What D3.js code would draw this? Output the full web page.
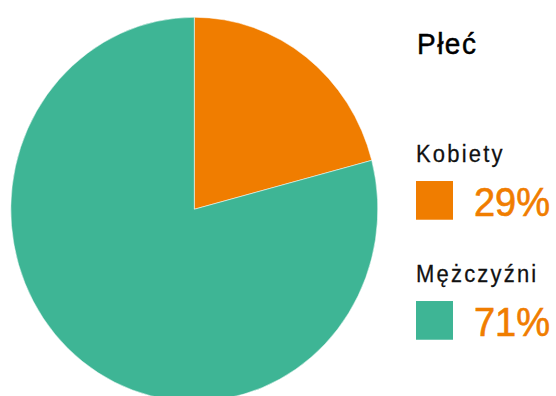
<!DOCTYPE html>
<html>
<head>
<meta charset="utf-8">
<script src="https://cdn.jsdelivr.net/npm/d3@7"></script>
<style>
  body { margin: 0; background: #fff; }
  text { font-family: "Liberation Sans", Arial, Helvetica, sans-serif; }
</style>
</head>
<body>
<div id="chart"></div>
<script>
var categories = ['Kobiety', 'Mężczyźni'];
var values = [20.9, 79.1];
var percentLabels = ['29%', '71%'];
var colors = ['#F07D00', '#3EB595'];
var title = 'Płeć';

var width = 556;
var height = 396;
// picture is a bit taller than wide, so everything is stretched vertically
var sy = 1.0463;

var svg = d3.select('#chart')
  .append('svg')
  .attr('width', width)
  .attr('height', height);

var root = svg.append('g')
  .attr('transform', 'scale(1,' + sy + ')');

// Pie
var radius = 183.5;
var pie = d3.pie().sort(null).value(function (d) { return d; });
var arc = d3.arc().innerRadius(0).outerRadius(radius);

var pieG = root.append('g')
  .attr('transform', 'translate(194.3,200)');

pieG.selectAll('path')
  .data(pie(values))
  .enter()
  .append('path')
  .attr('d', arc)
  .attr('fill', function (d, i) { return colors[i]; })
  .attr('stroke', '#fff')
  .attr('stroke-width', 0.5);

// Legend
var legend = root.append('g');

legend.append('text')
  .attr('x', 417)
  .attr('y', 52)
  .attr('font-size', 28)
  .attr('letter-spacing', 1.5)
  .attr('fill', '#000')
  .attr('stroke', '#000')
  .attr('stroke-width', 0.45)
  .text(title);

var rowY = d3.scalePoint()
  .domain(categories)
  .range([154.5, 269.2]);

var items = legend.selectAll('g.item')
  .data(categories)
  .enter()
  .append('g')
  .attr('class', 'item')
  .attr('transform', function (d) { return 'translate(0,' + rowY(d) + ')'; });

items.append('text')
  .attr('x', 416)
  .attr('y', 0)
  .attr('font-size', 22)
  .attr('letter-spacing', 2.2)
  .attr('fill', '#111')
  .attr('stroke', '#111')
  .attr('stroke-width', 0.25)
  .text(function (d) { return d; });

items.append('rect')
  .attr('x', 416)
  .attr('y', 18.5)
  .attr('width', 37)
  .attr('height', 37)
  .attr('fill', function (d, i) { return colors[i]; });

items.append('text')
  .attr('x', 474)
  .attr('y', 51.5)
  .attr('font-size', 38)
  .attr('fill', colors[0])
  .attr('stroke', colors[0])
  .attr('stroke-width', 0.6)
  .text(function (d, i) { return percentLabels[i]; });
</script>
</body>
</html>
